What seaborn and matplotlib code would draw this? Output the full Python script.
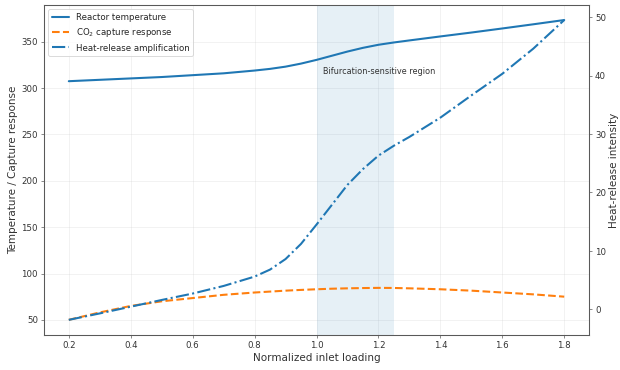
import numpy as np
import pandas as pd
import matplotlib
matplotlib.use("Agg")
import matplotlib.pyplot as plt
import seaborn as sns

# values
loading = [0.2, 0.3, 0.4, 0.5, 0.6, 0.7, 0.8, 0.85, 0.9, 0.95, 1.0, 1.05,
           1.1, 1.15, 1.2, 1.25, 1.3, 1.4, 1.5, 1.6, 1.7, 1.8]
reactor_temp = [307.5, 309, 310.5, 312, 314, 316, 319, 320.8, 323.2, 326.5, 330.5, 335,
                339.5, 343.5, 346.8, 349.3, 351.5, 355.8, 360, 364.4, 368.9, 373.5]
co2_capture = [50, 58, 65, 70, 73.5, 77, 79.5, 80.5, 81.5, 82.3, 83, 83.6,
               84, 84.3, 84.5, 84.4, 84, 83, 81.5, 79.5, 77.5, 75]
heat_release = [-1.8, -0.7, 0.45, 1.6, 2.7, 4.0, 5.6, 6.8, 8.6, 11.2, 14.5, 17.9,
                21.3, 24.0, 26.3, 28.0, 29.5, 32.8, 36.6, 40.3, 44.6, 49.5]

df = pd.DataFrame({"loading": loading, "temp": reactor_temp,
                   "co2": co2_capture, "heat": heat_release})

sns.set_style("ticks", {"axes.edgecolor": ".35", "xtick.color": ".35",
                        "ytick.color": ".35"})
plt.rcParams["font.family"] = ["DejaVu Sans"]
plt.rcParams["axes.linewidth"] = 1.2

fig, ax = plt.subplots(figsize=(10, 5.97), dpi=62)
ax2 = ax.twinx()

ax.axvspan(1.0, 1.25, color="tab:blue", alpha=0.11, lw=0)

sns.lineplot(data=df, x="loading", y="temp", ax=ax, color="tab:blue", lw=2.4,
             label="Reactor temperature")
sns.lineplot(data=df, x="loading", y="co2", ax=ax, color="tab:orange", lw=2.4,
             linestyle="--", label="CO$_2$ capture response")
sns.lineplot(data=df, x="loading", y="heat", ax=ax2, color="tab:blue", lw=2.4,
             linestyle="-.", label="Heat-release amplification")

ax.text(1.02, 318, "Bifurcation-sensitive region", fontsize=9.5, color="#333333",
        va="center")

ax.set_xlabel("Normalized inlet loading", fontsize=12, color=".2")
ax.set_ylabel("Temperature / Capture response", fontsize=12, color=".2")
ax2.set_ylabel("Heat-release intensity", fontsize=12, color=".2")
ax.tick_params(labelsize=10, labelcolor=".2")
ax2.tick_params(labelsize=10, labelcolor=".2")
ax.grid(True, alpha=0.35)
ax2.grid(False)

h1, l1 = ax.get_legend_handles_labels()
h2, l2 = ax2.get_legend_handles_labels()
ax2.get_legend().remove()
ax.legend(h1 + h2, l1 + l2, loc="upper left", fontsize=10, frameon=True)

fig.subplots_adjust(left=0.071, right=0.95, top=0.986, bottom=0.095)
fig.savefig("out.png", dpi=62)
